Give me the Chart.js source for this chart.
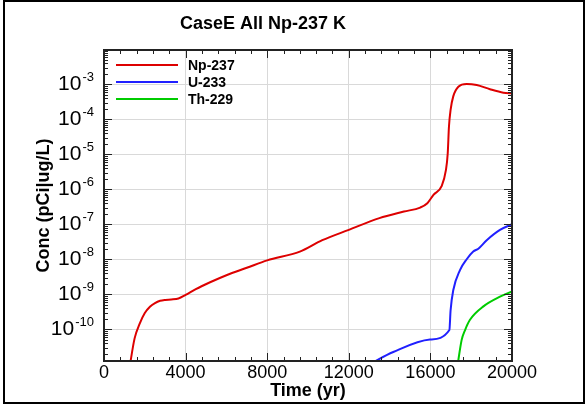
<!DOCTYPE html>
<html>
<head>
<meta charset="utf-8">
<script src="https://cdn.jsdelivr.net/npm/chart.js@4.4.0/dist/chart.umd.min.js"></script>
<style>
  html, body { margin: 0; padding: 0; background: #fff; }
  #wrap { width: 588px; height: 407px; }
</style>
</head>
<body>
<div id="wrap"><canvas id="chart" width="588" height="407"></canvas></div>
<script>
// values (time in yr, conc in pCi|ug/L)
const npTime = [1250, 1500, 1750, 2000, 2250, 2500, 2750, 3000, 3300, 3650, 4000, 4500, 5200, 6000, 7000, 8000, 9600, 10700, 12000, 13500, 14700, 15500, 15850, 16150, 16550, 16760, 16850, 16910, 16990, 17120, 17370, 17780, 18270, 18920, 19580, 20000];
const npConc = [8e-12, 5.5e-11, 1.45e-10, 2.9e-10, 4.4e-10, 5.6e-10, 6.5e-10, 6.9e-10, 7.1e-10, 7.6e-10, 9.6e-10, 1.4e-9, 2.2e-9, 3.5e-9, 5.7e-9, 9.3e-9, 1.65e-8, 3.5e-8, 6.9e-8, 1.5e-7, 2.3e-7, 3.0e-7, 4.0e-7, 6.9e-7, 1.23e-6, 3.5e-6, 1.07e-5, 6.2e-5, 1.86e-4, 4.5e-4, 8.5e-4, 1.02e-3, 9.5e-4, 7.2e-4, 5.75e-4, 5.5e-4];

const uTime = [13000, 14180, 15980, 16930, 16990, 17120, 17450, 17780, 18100, 18350, 18760, 19410, 20000];
const uConc = [1.0e-11, 2.24e-11, 5.1e-11, 9.5e-11, 3.5e-10, 1.3e-9, 4.9e-9, 1.0e-8, 1.66e-8, 2.0e-8, 3.5e-8, 6.9e-8, 1.0e-7];

const thTime = [17300, 17530, 17700, 17940, 18600, 19410, 20000];
const thConc = [7e-12, 4.9e-11, 9.5e-11, 1.86e-10, 4.5e-10, 8.5e-10, 1.2e-9];

const seriesNames = ["Np-237", "U-233", "Th-229"];
const seriesColors = ["#dd0000", "#2020ff", "#00cc00"];
const xTicks = [0, 4000, 8000, 12000, 16000, 20000];
const yDecades = [-10, -9, -8, -7, -6, -5, -4, -3];

const FONT = "'Liberation Sans', Arial, sans-serif";

function pairs(xs, ys) {
  return xs.map((x, i) => ({ x: x, y: ys[i] }));
}

// frame, inward ticks, y labels with superscripts, legend, title, outer border
const decorations = {
  id: "decorations",
  afterDatasetsDraw(chart) {
    const ctx = chart.ctx;
    const xs = chart.scales.x;
    const ys = chart.scales.y;
    const a = chart.chartArea;
    ctx.save();
    ctx.strokeStyle = "#222";
    ctx.lineWidth = 1;

    // x ticks: major 4000, minor 800
    for (let t = 0; t <= 20000; t += 800) {
      const px = Math.round(xs.getPixelForValue(t)) + 0.5;
      const len = t % 4000 === 0 ? 8 : 4;
      ctx.beginPath();
      ctx.moveTo(px, a.bottom); ctx.lineTo(px, a.bottom - len);
      ctx.moveTo(px, a.top); ctx.lineTo(px, a.top + len);
      ctx.stroke();
    }
    // y ticks: decades and 2..9 minors
    for (let e = -12; e <= -2; e++) {
      for (let m = 1; m <= 9; m++) {
        const v = m * Math.pow(10, e);
        if (v < ys.min || v > ys.max) continue;
        const py = Math.round(ys.getPixelForValue(v)) + 0.5;
        const len = m === 1 ? 8 : 4;
        ctx.beginPath();
        ctx.moveTo(a.left, py); ctx.lineTo(a.left + len, py);
        ctx.moveTo(a.right, py); ctx.lineTo(a.right - len, py);
        ctx.stroke();
      }
    }
    // plot frame
    ctx.lineWidth = 2;
    ctx.strokeStyle = "#222";
    ctx.strokeRect(a.left, a.top, a.right - a.left, a.bottom - a.top);

    // y tick labels 10^n
    ctx.fillStyle = "#000";
    ctx.textAlign = "right";
    ctx.textBaseline = "middle";
    const right = 94;
    yDecades.forEach(e => {
      const py = ys.getPixelForValue(Math.pow(10, e));
      const sup = String(e);
      ctx.font = "13px " + FONT;
      const w = ctx.measureText(sup).width;
      ctx.fillText(sup, right, py - 7);
      ctx.font = "21px " + FONT;
      ctx.fillText("10", right - w - 1, py);
    });

    // legend inside plot
    ctx.textAlign = "left";
    ctx.font = "bold 14px " + FONT;
    seriesNames.forEach((name, i) => {
      const ly = 65 + i * 17;
      ctx.strokeStyle = seriesColors[i];
      ctx.lineWidth = 2;
      ctx.beginPath();
      ctx.moveTo(116, ly); ctx.lineTo(178, ly);
      ctx.stroke();
      ctx.fillStyle = "#000";
      ctx.fillText(name, 188, ly + 1);
    });

    // title
    ctx.textAlign = "center";
    ctx.font = "bold 18px " + FONT;
    ctx.fillText("CaseE All Np-237 K", 263, 24);

    // outer border
    ctx.strokeStyle = "#000";
    ctx.lineWidth = 2;
    ctx.strokeRect(4, 1, 580, 402);
    ctx.restore();
  }
};

new Chart(document.getElementById("chart"), {
  type: "line",
  data: {
    datasets: [
      { label: seriesNames[0], data: pairs(npTime, npConc), borderColor: seriesColors[0] },
      { label: seriesNames[1], data: pairs(uTime, uConc), borderColor: seriesColors[1] },
      { label: seriesNames[2], data: pairs(thTime, thConc), borderColor: seriesColors[2] },
    ],
  },
  options: {
    responsive: false,
    animation: false,
    devicePixelRatio: 1,
    layout: { padding: { top: 50, right: 76, left: 0, bottom: 0 } },
    elements: {
      point: { radius: 0 },
      line: { borderWidth: 2, cubicInterpolationMode: "monotone", fill: false },
    },
    plugins: {
      legend: { display: false },
      title: { display: false },
      tooltip: { enabled: false },
    },
    scales: {
      x: {
        type: "linear",
        min: 0,
        max: 20000,
        afterBuildTicks: (scale) => { scale.ticks = xTicks.map(v => ({ value: v })); },
        afterFit: (scale) => { scale.height = 46; },
        ticks: {
          autoSkip: false,
          maxRotation: 0,
          padding: 1,
          color: "#000",
          font: { family: FONT, size: 18 },
          callback: (v) => String(v),
        },
        grid: { color: "#d9d9d9", lineWidth: 1, drawTicks: false },
        border: { display: false },
        title: {
          display: true,
          text: "Time (yr)",
          color: "#000",
          font: { family: FONT, size: 18, weight: "bold" },
          padding: { top: 0, bottom: 5 },
        },
      },
      y: {
        type: "logarithmic",
        min: 1.24e-11,
        max: 9.5e-3,
        afterBuildTicks: (scale) => { scale.ticks = yDecades.map(e => ({ value: Math.pow(10, e) })); },
        afterFit: (scale) => { scale.width = 104; },
        ticks: { display: false },
        grid: { color: "#d9d9d9", lineWidth: 1, drawTicks: false },
        border: { display: false },
        title: {
          display: true,
          text: "Conc (pCi|ug/L)",
          color: "#000",
          font: { family: FONT, size: 18, weight: "bold" },
          padding: { top: 33, bottom: 0 },
        },
      },
    },
  },
  plugins: [decorations],
});
</script>
</body>
</html>
